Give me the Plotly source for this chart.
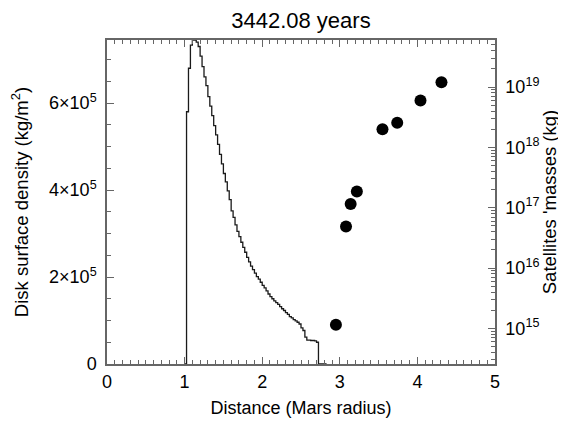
import plotly.graph_objects as go

# ---- data ----
disk_r = [1.000, 1.025, 1.050, 1.075, 1.100, 1.125, 1.150, 1.175, 1.200, 1.225,
          1.250, 1.275, 1.300, 1.325, 1.350, 1.375, 1.400, 1.425, 1.450, 1.475,
          1.500, 1.525, 1.550, 1.575, 1.600, 1.625, 1.650, 1.675, 1.700, 1.725,
          1.750, 1.775, 1.800, 1.825, 1.850, 1.875, 1.900, 1.925, 1.950, 1.975,
          2.000, 2.025, 2.050, 2.075, 2.100, 2.125, 2.150, 2.175, 2.200, 2.225,
          2.250, 2.275, 2.300, 2.325, 2.350, 2.375, 2.400, 2.425, 2.450, 2.475,
          2.500, 2.525, 2.550, 2.575, 2.600, 2.625, 2.650, 2.675, 2.700, 2.725,
          2.830]
disk_sigma = [0.00, 5.80, 6.80, 7.33, 7.45, 7.45, 7.40, 7.30, 7.08, 6.84,
              6.60, 6.40, 6.15, 5.93, 5.71, 5.48, 5.27, 5.05, 4.82, 4.60,
              4.38, 4.19, 3.98, 3.78, 3.52, 3.37, 3.20, 3.05, 2.93, 2.80,
              2.68, 2.57, 2.45, 2.35, 2.25, 2.17, 2.09, 2.01, 1.95, 1.88,
              1.81, 1.75, 1.68, 1.61, 1.55, 1.50, 1.45, 1.41, 1.37, 1.32,
              1.27, 1.23, 1.18, 1.14, 1.09, 1.06, 1.02, 0.99, 0.96, 0.92,
              0.83, 0.77, 0.62, 0.55, 0.55, 0.54, 0.54, 0.53, 0.50, 0.00,
              0.00]  # units of 1e5 kg/m^2

sat_r = [2.95, 3.08, 3.14, 3.22, 3.55, 3.74, 4.04, 4.31]
sat_mass = [1.15e15, 4.9e16, 1.15e17, 1.86e17, 2.0e18, 2.57e18, 6.0e18, 1.2e19]

left_tickvals = [0, 2e5, 4e5, 6e5]
left_ticktext = ["0", "2×10<sup>5</sup>", "4×10<sup>5</sup>", "6×10<sup>5</sup>"]
right_tickvals = [1e15, 1e16, 1e17, 1e18, 1e19]
right_ticktext = ["10<sup>15</sup>", "10<sup>16</sup>", "10<sup>17</sup>",
                  "10<sup>18</sup>", "10<sup>19</sup>"]

FONT = "Liberation Sans, Arial, sans-serif"
AX = "#666666"

fig = go.Figure()
fig.add_trace(go.Scatter(
    x=disk_r, y=[v * 1e5 for v in disk_sigma], mode="lines",
    line=dict(color="#1a1a1a", width=1.3, shape="hv"), showlegend=False))
fig.add_trace(go.Scatter(
    x=sat_r, y=sat_mass, mode="markers", yaxis="y2",
    marker=dict(color="black", size=12), showlegend=False))

fig.update_layout(
    width=558, height=415,
    margin=dict(l=99, r=71, t=32, b=59),
    paper_bgcolor="white", plot_bgcolor="white",
    font=dict(family=FONT, size=18, color="black"),
    title=dict(text="3442.08 years", x=0.525, xanchor="center", y=0.971,
               yanchor="middle", font=dict(size=22), automargin=False),
    xaxis=dict(range=[0, 5], dtick=1, tick0=0, showgrid=False, zeroline=False,
               showline=True, linecolor=AX, linewidth=1.5, mirror="ticks",
               ticks="inside", ticklen=7, tickcolor=AX, tickwidth=1,
               minor=dict(dtick=0.1, ticks="inside", ticklen=4, tickcolor=AX),
               ticklabelstandoff=1, automargin=False,
               title=dict(text="Distance (Mars radius)", standoff=10,
                          font=dict(size=18)),
               tickfont=dict(size=18)),
    yaxis=dict(range=[0, 7.45e5], tickvals=left_tickvals, ticktext=left_ticktext,
               showgrid=False, zeroline=False, showline=True, linecolor=AX,
               linewidth=1.5, ticks="inside", ticklen=7, tickcolor=AX,
               minor=dict(dtick=5e4, ticks="inside", ticklen=4, tickcolor=AX),
               ticklabelstandoff=5, automargin=False,
               title=dict(text="Disk surface density (kg/m<sup>2</sup>)", standoff=20,
                          font=dict(size=18.5)),
               tickfont=dict(size=18)),
    yaxis2=dict(type="log", range=[14.41, 19.78], overlaying="y", side="right",
                tickvals=right_tickvals, ticktext=right_ticktext,
                showgrid=False, zeroline=False, showline=True, linecolor=AX,
                linewidth=1.5, ticks="inside", ticklen=7, tickcolor=AX,
                minor=dict(ticks="inside", ticklen=4, tickcolor=AX, dtick="D1"),
                ticklabelstandoff=5, automargin=False,
                title=dict(text="Satellites 'masses (kg)", standoff=2,
                           font=dict(size=18.5)),
                tickfont=dict(size=18)),
)

fig.write_html("out.html")
